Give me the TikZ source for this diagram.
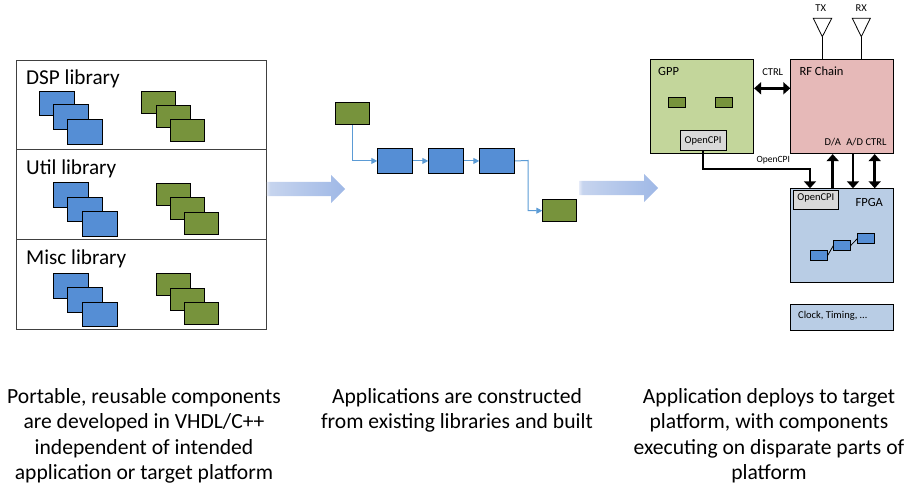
\documentclass[tikz,border=0pt]{standalone}
\usepackage{fontspec}
\setmainfont{Carlito}
\usepackage{tikz}
\usetikzlibrary{arrows.meta}
\usetikzlibrary{shapes.arrows}

\definecolor{compblue}{HTML}{558ED5}
\definecolor{compgreen}{HTML}{77933C}
\definecolor{flowblue}{HTML}{5B9BD5}
\definecolor{gppgreen}{HTML}{C3D69B}
\definecolor{rfpink}{HTML}{E6B9B8}
\definecolor{fpgablue}{HTML}{B9CDE5}
\definecolor{cpigray}{HTML}{D9D9D9}
\definecolor{fatpale}{HTML}{E4EAF7}
\definecolor{fatstart}{HTML}{C6D4EE}
\definecolor{fatend}{HTML}{9FB8E6}
\pgfdeclarehorizontalshading{fatfade}{100bp}{color(0bp)=(fatpale); color(25bp)=(fatpale); color(27bp)=(fatstart); color(75bp)=(fatend); color(100bp)=(fatend)}

\tikzset{
  libbox/.style={draw=black!75, line width=1pt, anchor=north west, minimum width=250pt, inner sep=0pt},
  libname/.style={anchor=base west, inner sep=0pt, font=\fontsize{21.2}{24}\selectfont},
  blueblock/.style={draw=black, line width=0.8pt, fill=compblue, anchor=north west, minimum width=35pt, minimum height=24.5pt, inner sep=0pt},
  greenblock/.style={draw=black, line width=0.8pt, fill=compgreen, anchor=north west, minimum width=34pt, minimum height=22pt, inner sep=0pt},
  tinyblue/.style={blueblock, minimum width=16.4pt, minimum height=10pt},
  tinygreen/.style={greenblock, minimum width=16.4pt, minimum height=10pt},
  platbox/.style={draw=black, line width=0.8pt, anchor=north west, minimum width=103pt, inner sep=0pt},
  cpibox/.style={draw=black, line width=0.8pt, fill=cpigray, anchor=north west, inner sep=0pt},
  small/.style={inner sep=0pt, font=\fontsize{10.5}{12}\selectfont},
  platname/.style={inner sep=0pt, font=\fontsize{12.5}{14}\selectfont},
  caption/.style={anchor=north, inner sep=0pt, align=center, font=\fontsize{21.6}{25.4}\selectfont},
  fatarrow/.style={single arrow, shading=fatfade, anchor=tail, inner xsep=0pt, inner ysep=7pt, minimum width=28pt, single arrow head extend=7pt, single arrow head indent=0pt},
  flow/.style={draw=flowblue, line width=1pt, -{Triangle[length=6pt,width=6pt]}},
  bus/.style={draw=black, line width=2.5pt, >={Triangle[length=7pt,width=12pt]}}
}

\begin{document}
\begin{tikzpicture}[x=1pt,y=-1pt]
\useasboundingbox (0,0) rectangle (910,489);

% left: the libraries
\node[libbox, minimum height=89pt] (dspbox) at (16,60) {};
\node[libbox, minimum height=90pt] (utilbox) at (16,149) {};
\node[libbox, minimum height=90pt] (miscbox) at (16,239) {};
\node[libname] (dspname) at (26,85) {DSP library};
\node[libname] (utilname) at (26,175) {Util library};
\node[libname] (miscname) at (26,264) {Misc library};

\node[blueblock] (dspA) at (39.3,90.7) {};
\node[blueblock] (dspB) at (53.3,104.3) {};
\node[blueblock] (dspC) at (67.3,119.3) {};
\node[greenblock] (dspD) at (141.3,90.7) {};
\node[greenblock] (dspE) at (156.3,105.5) {};
\node[greenblock] (dspF) at (170.3,119.3) {};

\node[blueblock] (utilA) at (53.3,182.3) {};
\node[blueblock] (utilB) at (67.3,197) {};
\node[blueblock] (utilC) at (82.3,211.3) {};
\node[greenblock] (utilD) at (156.3,183.3) {};
\node[greenblock] (utilE) at (170.3,197) {};
\node[greenblock] (utilF) at (184.3,211.7) {};

\node[blueblock] (miscA) at (53.3,273.3) {};
\node[blueblock] (miscB) at (67.3,287.3) {};
\node[blueblock] (miscC) at (82.3,301.5) {};
\node[greenblock] (miscD) at (156.3,273.3) {};
\node[greenblock] (miscE) at (170.3,287.5) {};
\node[greenblock] (miscF) at (184.3,302.3) {};

\node[fatarrow, minimum height=78.3pt] (fatA) at (266.7,189) {};

% middle: the application
\node[greenblock] (srcblock) at (335.3,102.3) {};
\node[blueblock] (stepA) at (377.3,148.3) {};
\node[blueblock] (stepB) at (428.3,148.3) {};
\node[blueblock] (stepC) at (479.3,148.3) {};
\node[greenblock, minimum width=33.4pt] (sinkblock) at (542.3,199.3) {};
\coordinate (sinkbend) at (528,160.5);

\draw[flow] (srcblock.south) |- (stepA.west);
\draw[flow] (stepA.east) -- (stepB.west);
\draw[flow] (stepB.east) -- (stepC.west);
\draw[flow] (stepC.east) -- (sinkbend) |- (sinkblock.west);

\node[fatarrow, minimum height=79pt] (fatB) at (579,188) {};

% right: the platform
\node[platbox, fill=gppgreen, minimum height=94.6pt] (gpp) at (650.3,58.7) {};
\node[platbox, fill=rfpink, minimum height=94.6pt] (rf) at (790.3,58.7) {};
\node[platbox, fill=fpgablue, minimum height=94pt] (fpga) at (790.3,188.3) {};
\node[platbox, fill=fpgablue, minimum height=26pt] (clock) at (790.3,304.3) {};

\node[platname, anchor=west] (gppname) at (658,71) {GPP};
\node[platname, anchor=west] (rfname) at (799.3,71) {RF Chain};
\node[platname] (fpganame) at (869.3,202) {FPGA};
\node[small, anchor=west] (clockname) at (798,316) {Clock, Timing, \dots};

\node[tinygreen] (gppA) at (668.3,97.3) {};
\node[tinygreen] (gppB) at (715.3,97.3) {};
\node[cpibox, minimum width=46pt, minimum height=20pt, small] (gppcpi) at (679.7,130.3) {OpenCPI};
\node[cpibox, minimum width=45pt, minimum height=19pt] (fpgacpi) at (793.3,190.3) {};
\node[small] (fpgacpiname) at (815.8,198) {OpenCPI};

\node[tinyblue] (fpgaA) at (810.3,250.3) {};
\node[tinyblue] (fpgaB) at (833.3,240.3) {};
\node[tinyblue] (fpgaC) at (857.3,233.3) {};
\draw[line width=0.8pt] (fpgaA.east) -- (fpgaB.west);
\draw[line width=0.8pt] (fpgaB.east) -- (fpgaC.west);

% antennas
\coordinate (txtip) at (822.3,36.7);
\coordinate (rxtip) at (861.3,36.7);
\draw[line width=0.8pt, fill=white] (813.3,18.3) -- (831.7,18.3) -- (txtip) -- cycle;
\draw[line width=0.8pt, fill=white] (852.3,18.3) -- (870.3,18.3) -- (rxtip) -- cycle;
\draw[line width=1.6pt] (txtip) -- (txtip |- rf.north);
\draw[line width=1.6pt] (rxtip) -- (rxtip |- rf.north);
\node[small] (txname) at (820.7,8) {TX};
\node[small] (rxname) at (861.3,8) {RX};

% buses
\coordinate (ctrllevel) at (772,88.3);
\draw[bus, <->] (gpp.east |- ctrllevel) -- (rf.west |- ctrllevel);
\node[small] (ctrlname) at (772.7,72) {CTRL};

\node[small] (daname) at (832.7,142) {D/A};
\node[small] (adname) at (854.7,142) {A/D};
\node[small] (rfctrlname) at (876,142) {CTRL};
\coordinate (daport) at (832.7,170);
\coordinate (adport) at (853,170);
\coordinate (ctrlport) at (874.7,170);
\draw[bus, ->] (daport |- fpga.north) -- (daport |- rf.south);
\draw[bus, ->] (adport |- rf.south) -- (adport |- fpga.north);
\draw[bus, <->] (ctrlport |- rf.south) -- (ctrlport |- fpga.north);

\coordinate (cputurn) at (810,169);
\draw[bus, ->] (gppcpi.south) |- (cputurn) -- (cputurn |- fpga.north);
\node[small, font=\fontsize{9.5}{11}\selectfont] (busname) at (773.3,160) {OpenCPI};

% captions
\node[caption] (capA) at (144,388) {Portable, reusable components\\are developed in VHDL/C++\\independent of intended\\application or target platform};
\node[caption] (capB) at (457,388) {Applications are constructed\\from existing libraries and built};
\node[caption] (capC) at (769,388) {Application deploys to target\\platform, with components\\executing on disparate parts of\\platform};
\end{tikzpicture}
\end{document}
